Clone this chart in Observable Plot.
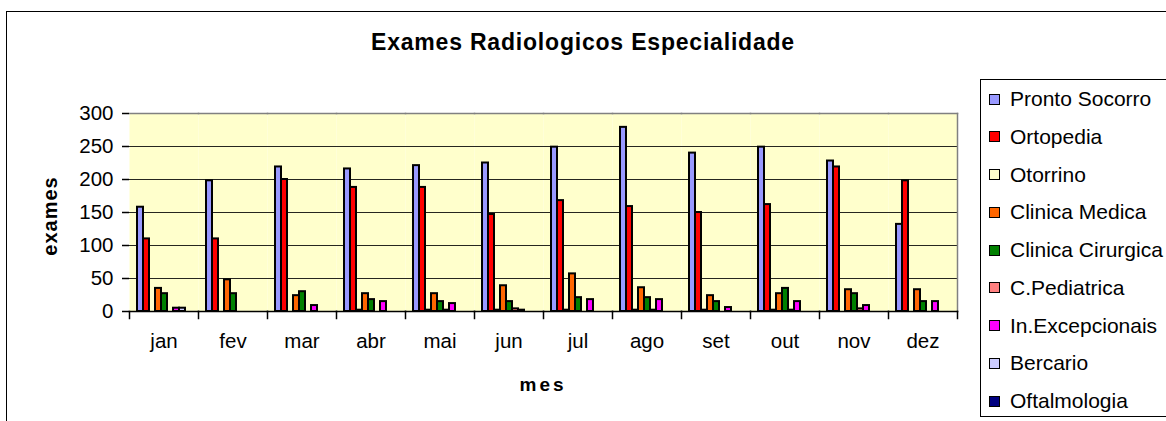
<!DOCTYPE html>
<html>
<head>
<meta charset="utf-8">
<script src="https://cdn.jsdelivr.net/npm/d3@7"></script>
<script src="https://cdn.jsdelivr.net/npm/@observablehq/plot@0.6"></script>
<style>
  body { margin: 0; background: #fff; font-family: "Liberation Sans", Arial, sans-serif; }
  #wrap { position: relative; width: 1166px; height: 421px; overflow: hidden; background: #fff; }
  #chart { position: absolute; left: 0; top: 0; }
  #outer { position: absolute; left: 6px; top: 11px; width: 1200px; height: 500px; border: 1.5px solid #000; pointer-events: none; }
  #title { position: absolute; left: 0; width: 1166px; top: 29px; text-align: center; font-weight: bold; font-size: 23px; letter-spacing: 0.8px; }
  #ytitle { position: absolute; left: 50px; top: 216px; transform: translate(-50%, -50%) rotate(-90deg); font-weight: bold; font-size: 20px; letter-spacing: 1px; white-space: nowrap; }
  #xtitle { position: absolute; left: 543px; top: 385px; transform: translate(-50%, -50%); font-weight: bold; font-size: 19px; letter-spacing: 3px; white-space: nowrap; }
  #legend { position: absolute; left: 980px; top: 79px; width: 220px; height: 338px; border: 1px solid #000; background: #fff; box-sizing: border-box; }
  .item { position: absolute; left: 8px; height: 24px; display: flex; align-items: center; font-size: 21px; white-space: nowrap; }
  .sw { width: 9px; height: 9px; border: 1px solid #000; margin-right: 10px; flex: none; }
</style>
</head>
<body>
<div id="wrap">
  <div id="chart"></div>
  <div id="outer"></div>
  <div id="title">Exames Radiologicos Especialidade</div>
  <div id="ytitle">exames</div>
  <div id="xtitle">mes</div>
  <div id="legend"></div>
</div>
<script>
const months = ["jan", "fev", "mar", "abr", "mai", "jun", "jul", "ago", "set", "out", "nov", "dez"];
const series = ["Pronto Socorro", "Ortopedia", "Otorrino", "Clinica Medica", "Clinica Cirurgica", "C.Pediatrica", "In.Excepcionais", "Bercario", "Oftalmologia"];
const seriesColors = ["#9999FF", "#FF0000", "#FFFFCC", "#FF6600", "#008000", "#FF8080", "#FF00FF", "#CCCCFF", "#000080"];
const yTicks = [0, 50, 100, 150, 200, 250, 300];

const prontoSocorro   = [158, 198, 219, 216, 221, 225, 249, 279, 240, 249, 228, 132];
const ortopedia       = [110, 110, 200, 188, 188, 147, 168, 159, 150, 162, 219, 198];
const otorrino        = [0, 0, 0, 2, 2, 2, 2, 2, 2, 2, 0, 0];
const clinicaMedica   = [35, 48, 24, 27, 27, 39, 57, 36, 24, 27, 33, 33];
const clinicaCirurgica= [27, 27, 30, 18, 15, 15, 21, 21, 15, 35, 27, 15];
const cPediatrica     = [0, 0, 0, 0, 2, 4, 0, 2, 0, 2, 4, 0];
const inExcepcionais  = [5, 0, 9, 15, 12, 2, 18, 18, 6, 15, 9, 15];
const bercario        = [5, 0, 0, 0, 0, 0, 0, 0, 0, 0, 0, 0];
const oftalmologia    = [0, 0, 0, 0, 0, 0, 0, 0, 0, 0, 0, 0];

const seriesValues = [prontoSocorro, ortopedia, otorrino, clinicaMedica, clinicaCirurgica, cPediatrica, inExcepcionais, bercario, oftalmologia];
const rows = [];
series.forEach((s, si) => months.forEach((m, mi) => rows.push({month: m, serie: s, value: seriesValues[si][mi]})));

const W = 1166, H = 421, mTop = 113, mBottom = 110, mLeft = 127, mRight = 207;
const plotH = H - mTop - mBottom;

const chart = Plot.plot({
  width: W, height: H,
  marginTop: mTop, marginBottom: mBottom, marginLeft: mLeft, marginRight: mRight,
  style: {fontFamily: "'Liberation Sans', Arial, sans-serif", fontSize: "20.5px", background: "transparent", color: "#000"},
  fx: {domain: months, padding: 0, label: null},
  x: {domain: series, paddingInner: 0, paddingOuter: 0.5, axis: null},
  y: {domain: [0, 300], label: null},
  color: {domain: series, range: seriesColors},
  marks: [
    Plot.frame({fill: "#FFFFCC", stroke: null}),
    Plot.gridY(yTicks, {stroke: "#000", strokeOpacity: 0.85, strokeWidth: 1}),
    Plot.frame({anchor: "top", stroke: "#808080", strokeWidth: 1.5}),
    Plot.frame({anchor: "right", stroke: "#808080", strokeWidth: 1.5, facetAnchor: "right"}),
    Plot.barY(rows, {fx: "month", x: "serie", y: "value", fill: "serie", stroke: "#000", strokeWidth: 2}),
    Plot.frame({anchor: "bottom", stroke: "#000", strokeWidth: 1.5}),
    Plot.frame({anchor: "left", stroke: "#000", strokeWidth: 1.5, insetTop: plotH, insetBottom: -7}),
    Plot.frame({anchor: "right", stroke: "#000", strokeWidth: 1.5, insetTop: plotH, insetBottom: -7, facetAnchor: "right"}),
    Plot.axisY({anchor: "left", ticks: yTicks, tickSize: 7, tickPadding: 9, label: null, line: true, strokeWidth: 1.5}),
    Plot.axisFx({anchor: "bottom", tickSize: 0, tickPadding: 22, label: null})
  ]
});
document.getElementById("chart").appendChild(chart);

const legend = document.getElementById("legend");
series.forEach((s, i) => {
  const it = document.createElement("div");
  it.className = "item";
  it.style.top = (7 + i * 37.75) + "px";
  const sw = document.createElement("span");
  sw.className = "sw";
  sw.style.background = seriesColors[i];
  const tx = document.createElement("span");
  tx.textContent = s;
  it.appendChild(sw); it.appendChild(tx);
  legend.appendChild(it);
});
</script>
</body>
</html>
